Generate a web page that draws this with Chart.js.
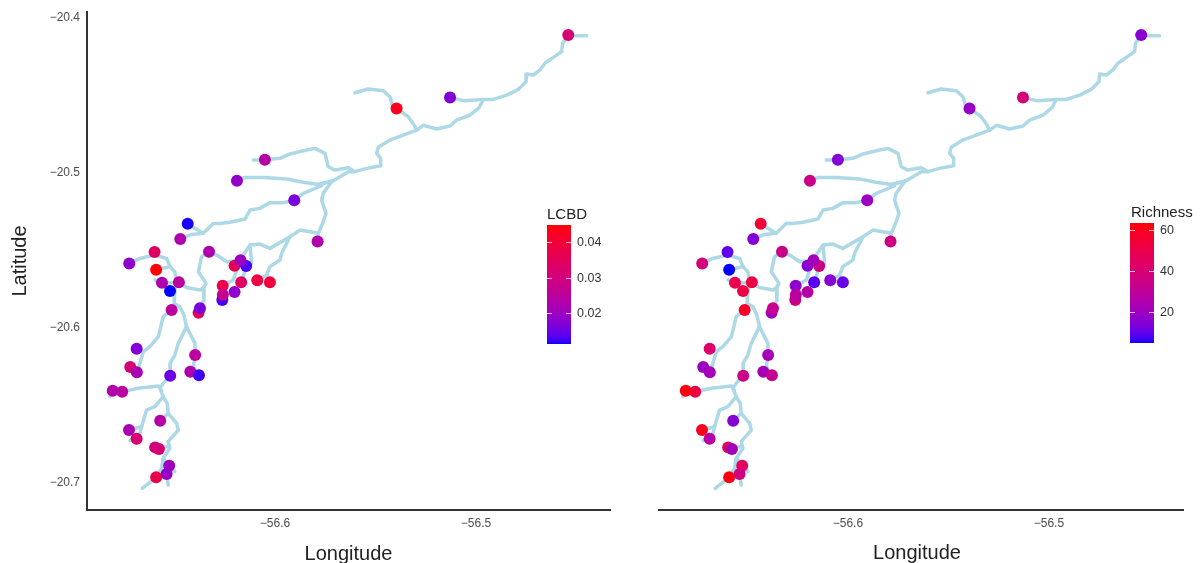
<!DOCTYPE html>
<html>
<head>
<meta charset="utf-8">
<title>LCBD and richness maps</title>
<script src="https://cdn.jsdelivr.net/npm/chart.js@4"></script>
<style>
body { margin: 0; background: #fff; width: 1201px; height: 563px; overflow: hidden; position: relative; }
canvas { position: absolute; top: 0; }
#mapLcbd { left: 0; }
#mapRichness { left: 620px; }
</style>
</head>
<body>
<canvas id="mapLcbd" width="620" height="563"></canvas>
<canvas id="mapRichness" width="581" height="563"></canvas>
<script>
// sampling sites
const siteLon = [-56.6434,-56.6471,-56.6599,-56.6725,-56.6591,-56.6562,-56.6478,-56.6522,-56.6514,-56.6380,-56.6373,-56.6328,-56.6201,-56.6143,-56.6171,-56.6168,-56.6088,-56.6025,-56.6262,-56.6260,-56.6259,-56.6201,-56.5788,-56.6688,-56.6720,-56.6687,-56.6521,-56.6397,-56.6421,-56.6378,-56.6760,-56.6807,-56.6571,-56.6726,-56.6688,-56.6596,-56.6577,-56.6591,-56.6526,-56.6539,-56.4541,-56.5395,-56.5129,-56.6050,-56.6189,-56.5904];
const siteLat = [-20.5327,-20.5426,-20.5510,-20.5583,-20.5624,-20.5708,-20.5705,-20.5761,-20.5884,-20.5901,-20.5873,-20.5508,-20.5598,-20.5600,-20.5563,-20.5705,-20.5692,-20.5705,-20.5819,-20.5727,-20.5785,-20.5768,-20.5441,-20.6134,-20.6252,-20.6286,-20.6308,-20.6174,-20.6282,-20.6305,-20.6411,-20.6405,-20.6598,-20.6658,-20.6714,-20.6770,-20.6781,-20.6963,-20.6888,-20.6942,-20.4110,-20.4583,-20.4512,-20.4914,-20.5050,-20.5176];
const siteLcbd = [0.0115,0.023,0.034,0.018,0.0445,0.023,0.025,0.0113,0.025,0.035,0.016,0.023,0.035,0.013,0.020,0.034,0.038,0.039,0.013,0.037,0.027,0.018,0.023,0.017,0.031,0.022,0.015,0.025,0.023,0.0125,0.025,0.023,0.024,0.022,0.031,0.029,0.031,0.037,0.020,0.019,0.031,0.043,0.017,0.024,0.019,0.016];
const siteRichness = [55,15,10,38,5,50,52,52,58,22,33,34,16,35,22,9,15,11,35,17,28,27,36,42,20,22,35,23,22,32,52,62,15,60,27,45,22,62,45,36,16,19,38,15,35,20];

// river reaches, [lon, lat]
const reachMain = [[-56.4449,-20.4114],[-56.4499,-20.4114],[-56.4541,-20.4110],[-56.4569,-20.4163],[-56.4574,-20.4217],[-56.4615,-20.4254],[-56.4657,-20.4292],[-56.4682,-20.4335],[-56.4715,-20.4368],[-56.4748,-20.4361],[-56.4751,-20.4411],[-56.4789,-20.4460],[-56.4847,-20.4497],[-56.4914,-20.4525],[-56.4964,-20.4525],[-56.4983,-20.4576],[-56.5030,-20.4626],[-56.5096,-20.4658],[-56.5129,-20.4697],[-56.5196,-20.4716],[-56.5262,-20.4692],[-56.5295,-20.4723],[-56.5362,-20.4755],[-56.5428,-20.4787],[-56.5486,-20.4834],[-56.5494,-20.4873],[-56.5474,-20.4905],[-56.5474,-20.4953],[-56.5544,-20.4970],[-56.5602,-20.4991],[-56.5635,-20.4991],[-56.5710,-20.5049],[-56.5768,-20.5071]];
const reachEast = [[-56.5129,-20.4512],[-56.5063,-20.4533],[-56.4964,-20.4525]];
const reachNorth = [[-56.5602,-20.4482],[-56.5536,-20.4458],[-56.5461,-20.4469],[-56.5428,-20.4508],[-56.5415,-20.4561],[-56.5395,-20.4583],[-56.5337,-20.4637],[-56.5308,-20.4690],[-56.5295,-20.4723]];
const reachUpper = [[-56.6108,-20.4916],[-56.6050,-20.4914],[-56.5975,-20.4905],[-56.5925,-20.4877],[-56.5859,-20.4856],[-56.5801,-20.4841],[-56.5751,-20.4873],[-56.5735,-20.4959],[-56.5702,-20.4981],[-56.5635,-20.4966],[-56.5602,-20.4991]];
const reachMiddle = [[-56.6189,-20.5050],[-56.6149,-20.5028],[-56.6058,-20.5028],[-56.5942,-20.5039],[-56.5859,-20.5060],[-56.5793,-20.5073],[-56.5726,-20.5056],[-56.5710,-20.5049]];
const reachLower = [[-56.5768,-20.5082],[-56.5859,-20.5131],[-56.5904,-20.5176],[-56.5959,-20.5191],[-56.6025,-20.5191],[-56.6075,-20.5228],[-56.6124,-20.5239],[-56.6149,-20.5297],[-56.6224,-20.5318],[-56.6274,-20.5325],[-56.6307,-20.5325],[-56.6357,-20.5389],[-56.6398,-20.5357],[-56.6434,-20.5327]];
const reachLowerEnd = [[-56.6357,-20.5389],[-56.6415,-20.5396],[-56.6471,-20.5426]];
const reachSouth = [[-56.5718,-20.5056],[-56.5760,-20.5131],[-56.5768,-20.5174],[-56.5746,-20.5260],[-56.5760,-20.5314],[-56.5784,-20.5389],[-56.5788,-20.5441]];
const reachSouthWest = [[-56.5784,-20.5389],[-56.5876,-20.5368],[-56.5925,-20.5411],[-56.6025,-20.5486],[-56.6075,-20.5458],[-56.6124,-20.5465],[-56.6158,-20.5529],[-56.6171,-20.5563],[-56.6240,-20.5572],[-56.6290,-20.5529],[-56.6328,-20.5508],[-56.6365,-20.5540],[-56.6381,-20.5637],[-56.6343,-20.5712],[-56.6357,-20.5744],[-56.6353,-20.5819],[-56.6373,-20.5873]];
const reachFork = [[-56.5925,-20.5411],[-56.5967,-20.5518],[-56.5975,-20.5561],[-56.6025,-20.5604],[-56.6042,-20.5658],[-56.6088,-20.5692]];
const reachForkEnd = [[-56.6042,-20.5658],[-56.6025,-20.5705]];
const reachSpur = [[-56.6124,-20.5465],[-56.6116,-20.5583],[-56.6143,-20.5600],[-56.6158,-20.5669],[-56.6168,-20.5705]];
const reachSpurWest = [[-56.6171,-20.5563],[-56.6199,-20.5658],[-56.6207,-20.5690],[-56.6260,-20.5727]];
const reachLink = [[-56.6478,-20.5705],[-56.6440,-20.5738],[-56.6373,-20.5755],[-56.6353,-20.5738]];
const reachWest = [[-56.6725,-20.5583],[-56.6672,-20.5551],[-56.6599,-20.5529],[-56.6539,-20.5551],[-56.6522,-20.5604],[-56.6498,-20.5637],[-56.6489,-20.5701],[-56.6498,-20.5766],[-56.6501,-20.5841],[-56.6473,-20.5862],[-56.6453,-20.5916],[-56.6440,-20.5991]];
const reachRed = [[-56.6591,-20.5624],[-56.6522,-20.5604]];
const reachShort = [[-56.6597,-20.5690],[-56.6562,-20.5708],[-56.6522,-20.5708],[-56.6478,-20.5705]];
const reachTrib = [[-56.6501,-20.5841],[-56.6514,-20.5884],[-56.6556,-20.5927],[-56.6572,-20.6013],[-56.6580,-20.6056],[-56.6622,-20.6120],[-56.6655,-20.6153],[-56.6672,-20.6228],[-56.6687,-20.6286]];
const reachTribEnd = [[-56.6688,-20.6134],[-56.6655,-20.6153]];
const reachStem = [[-56.6440,-20.5991],[-56.6481,-20.6099],[-56.6498,-20.6174],[-56.6522,-20.6228],[-56.6521,-20.6308],[-56.6556,-20.6357],[-56.6572,-20.6389],[-56.6556,-20.6443],[-56.6536,-20.6486],[-56.6531,-20.6551],[-56.6489,-20.6615],[-56.6481,-20.6658],[-56.6531,-20.6733],[-56.6522,-20.6776],[-56.6556,-20.6841],[-56.6526,-20.6888],[-56.6498,-20.6927]];
const reachStemEnd = [[-56.6536,-20.6873],[-56.6539,-20.6942],[-56.6531,-20.7013]];
const reachMouth = [[-56.6556,-20.6841],[-56.6564,-20.6905],[-56.6591,-20.6963],[-56.6660,-20.7034]];
const reachEastFork = [[-56.6440,-20.5991],[-56.6398,-20.6099],[-56.6397,-20.6174],[-56.6406,-20.6250],[-56.6421,-20.6282]];
const reachEastEnd = [[-56.6406,-20.6250],[-56.6378,-20.6305]];
const reachLeft = [[-56.6821,-20.6443],[-56.6807,-20.6405],[-56.6760,-20.6411],[-56.6680,-20.6389],[-56.6580,-20.6374],[-56.6564,-20.6404]];
const reachBend = [[-56.6556,-20.6443],[-56.6597,-20.6507],[-56.6639,-20.6529],[-56.6663,-20.6636],[-56.6672,-20.6680],[-56.6721,-20.6727]];
const reachBendEnd = [[-56.6726,-20.6658],[-56.6663,-20.6636]];
const reachPool = [[-56.6571,-20.6598],[-56.6531,-20.6551]];
const reachOxbow = [[-56.6596,-20.6770],[-56.6531,-20.6766]];

const riverReaches = [reachMain, reachEast, reachNorth, reachUpper, reachMiddle, reachLower, reachLowerEnd, reachSouth, reachSouthWest, reachFork, reachForkEnd, reachSpur, reachSpurWest, reachLink, reachWest, reachRed, reachShort, reachTrib, reachTribEnd, reachStem, reachStemEnd, reachMouth, reachEastFork, reachEastEnd, reachLeft, reachBend, reachBendEnd, reachPool, reachOxbow];

const lonTicks = [-56.6, -56.5];
const latTicks = [-20.4, -20.5, -20.6, -20.7];
const lcbdTicks = [0.02, 0.03, 0.04];
const richnessTicks = [20, 40, 60];

// blue to red through Lab, same as the ggplot default gradient
function labToRgb(L, a, b) {
    const fy = (L + 16) / 116, fx = fy + a / 500, fz = fy - b / 200;
    const inv = t => t > 0.2069 ? t * t * t : (t - 16 / 116) / 7.787;
    const X = 0.9505 * inv(fx), Y = inv(fy), Z = 1.089 * inv(fz);
    const lin = [3.2406 * X - 1.5372 * Y - 0.4986 * Z, -0.9689 * X + 1.8758 * Y + 0.0415 * Z, 0.0557 * X - 0.204 * Y + 1.057 * Z];
    const out = lin.map(c => {
        c = Math.max(0, Math.min(1, c));
        return Math.round(255 * (c <= 0.0031308 ? 12.92 * c : 1.055 * Math.pow(c, 1 / 2.4) - 0.055));
    });
    return `rgb(${out[0]},${out[1]},${out[2]})`;
}
function gradientColor(t) {
    t = Math.max(0, Math.min(1, t));
    return labToRgb(32.3 + t * (53.24 - 32.3), 79.2 + t * (80.09 - 79.2), -107.86 + t * (67.2 + 107.86));
}

const colorbarPlugin = {
    id: 'colorbar',
    afterDraw(chart, args, opts) {
        const ctx = chart.ctx;
        const range = opts.max - opts.min;
        const h = opts.bottom - opts.top;
        ctx.save();
        for (let i = 0; i < h; i++) {
            ctx.fillStyle = gradientColor(1 - (i + 0.5) / h);
            ctx.fillRect(opts.left, opts.top + i, opts.width, 1);
        }
        ctx.font = '12.5px "Liberation Sans"';
        ctx.textBaseline = 'middle';
        opts.ticks.forEach(v => {
            const y = Math.round(opts.bottom - (v - opts.min) / range * h) + 0.5;
            ctx.strokeStyle = 'rgba(255,255,255,0.75)';
            ctx.lineWidth = 1;
            ctx.beginPath();
            ctx.moveTo(opts.left, y); ctx.lineTo(opts.left + 5, y);
            ctx.moveTo(opts.left + opts.width - 5, y); ctx.lineTo(opts.left + opts.width, y);
            ctx.stroke();
            ctx.fillStyle = '#333';
            ctx.fillText(opts.format(v), opts.left + opts.width + 6, y);
        });
        ctx.font = '15px "Liberation Sans"';
        ctx.fillStyle = '#222';
        ctx.textBaseline = 'alphabetic';
        ctx.fillText(opts.title, opts.left + opts.titleShift, opts.top - 6);
        // the x title of this panel sits left of the axis centre in the original
        if (opts.xTitle) {
            ctx.font = '20px "Liberation Sans"';
            ctx.textAlign = 'center';
            ctx.textBaseline = 'middle';
            ctx.fillText(opts.xTitle, opts.xTitleX, opts.xTitleY);
        }
        ctx.restore();
    }
};

const minus = n => String(n).replace('-', '\u2212');

function makeMap(id, values, scaleMin, scaleMax, xMin, xMax, yWidth, padRight, showY, bar) {
    const colors = values.map(v => gradientColor((v - scaleMin) / (scaleMax - scaleMin)));
    const sites = siteLon.map((lon, i) => ({ x: lon, y: siteLat[i] }));
    const datasets = [{
        data: sites, showLine: false, pointRadius: 6, pointBorderWidth: 0,
        pointBackgroundColor: colors, pointHoverRadius: 6
    }];
    riverReaches.forEach(r => {
        datasets.push({
            data: r.map(p => ({ x: p[0], y: p[1] })),
            showLine: true, pointRadius: 0, borderColor: '#ADD8E6', borderWidth: 3.5,
            borderCapStyle: 'round', borderJoinStyle: 'round', tension: 0
        });
    });
    return new Chart(document.getElementById(id), {
        type: 'scatter',
        data: { datasets },
        plugins: [colorbarPlugin],
        options: {
            responsive: false,
            animation: false,
            events: [],
            layout: { padding: { top: 12, right: padRight, left: 0, bottom: 0 } },
            plugins: { legend: { display: false }, tooltip: { enabled: false }, colorbar: bar },
            scales: {
                x: {
                    type: 'linear', min: xMin, max: xMax,
                    afterBuildTicks: s => { s.ticks = lonTicks.map(v => ({ value: v })); },
                    afterFit: s => { s.height = 53; },
                    grid: { display: false, drawTicks: true, tickLength: 4, tickColor: '#333' },
                    border: { display: true, color: '#333', width: 2 },
                    ticks: { color: '#4d4d4d', font: { family: 'Liberation Sans', size: 12 }, padding: 2, maxRotation: 0, callback: v => minus(v.toFixed(1)) },
                    title: { display: showY, text: 'Longitude', color: '#222', font: { family: 'Liberation Sans', size: 20 }, padding: { top: 0, bottom: -3 } }
                },
                y: {
                    type: 'linear', min: -20.7174, max: -20.3961,
                    afterBuildTicks: s => { s.ticks = latTicks.map(v => ({ value: v })); },
                    afterFit: s => { s.width = yWidth; },
                    grid: { display: false, drawTicks: showY, tickLength: 4, tickColor: '#333' },
                    border: { display: showY, color: '#333', width: 2 },
                    ticks: { display: showY, color: '#4d4d4d', font: { family: 'Liberation Sans', size: 12 }, padding: 3, callback: v => minus(v.toFixed(1)) },
                    title: { display: showY, text: 'Latitude', color: '#222', font: { family: 'Liberation Sans', size: 20 }, padding: { top: 8, bottom: 0 } }
                }
            }
        }
    });
}

makeMap('mapLcbd', siteLcbd, 0.0113, 0.0448, -56.6935, -56.43333, 87, 10, true, {
    title: 'LCBD', titleShift: 0, left: 547, width: 24, top: 225, bottom: 344, min: 0.0113, max: 0.0448,
    ticks: lcbdTicks, format: v => v.toFixed(2)
});
makeMap('mapRichness', siteRichness, 4.9, 63.4, -56.6940, -56.4333, 39, 18, false, {
    title: 'Richness', titleShift: 1, left: 510, width: 24, top: 223, bottom: 343, min: 4.9, max: 63.4,
    ticks: richnessTicks, format: v => String(v),
    xTitle: 'Longitude', xTitleX: 297, xTitleY: 553
});
</script>
</body>
</html>
